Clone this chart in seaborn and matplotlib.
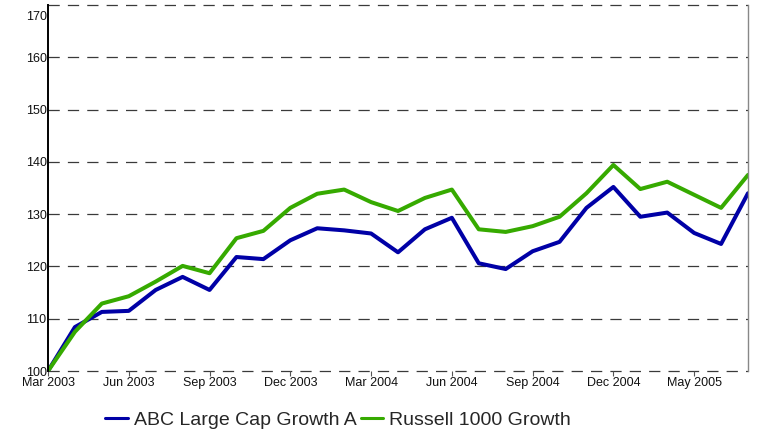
import matplotlib
matplotlib.use("Agg")
import matplotlib.pyplot as plt
import matplotlib.transforms as mtransforms
import seaborn as sns
import pandas as pd
import numpy as np

# ---- data ----
series_names = ["ABC Large Cap Growth A", "Russell 1000 Growth"]
abc_values = [100.0, 108.4, 111.3, 111.5, 115.5, 118.0, 115.5, 121.8, 121.4, 125.0,
              127.3, 126.9, 126.3, 122.7, 127.1, 129.3, 120.6, 119.5, 122.9, 124.7,
              131.2, 135.2, 129.5, 130.3, 126.4, 124.3, 134.0]
russell_values = [100.0, 107.5, 112.9, 114.3, 117.1, 120.1, 118.7, 125.4, 126.8, 131.2,
                  133.9, 134.7, 132.3, 130.6, 133.1, 134.7, 127.1, 126.6, 127.7, 129.5,
                  134.0, 139.4, 134.8, 136.2, 133.7, 131.2, 137.5]
x_tick_labels = ["Mar 2003", "Jun 2003", "Sep 2003", "Dec 2003", "Mar 2004",
                 "Jun 2004", "Sep 2004", "Dec 2004", "May 2005"]
y_ticks = [100, 110, 120, 130, 140, 150, 160, 170]
colors = ["#0000a6", "#36aa00"]

n = len(abc_values)
df = pd.DataFrame({
    "idx": list(range(n)) * 2,
    "value": abc_values + russell_values,
    "series": [series_names[0]] * n + [series_names[1]] * n,
})

sns.set_theme(style="white")
plt.rcParams["font.family"] = ["Liberation Sans", "DejaVu Sans"]

fig = plt.figure(figsize=(7.6, 4.37), dpi=100)
ax = fig.add_axes([48 / 760, 1 - 371 / 437, 700 / 760, 366 / 437])

sns.lineplot(data=df, x="idx", y="value", hue="series", palette=colors,
             linewidth=2.9, ax=ax, legend=False)

ax.set_xlim(0, n - 1)
ax.set_ylim(100, 170)
ax.set_xlabel("")
ax.set_ylabel("")

# grid
for v in y_ticks:
    ax.axhline(v, color="#3a3a3a", lw=0.9, dashes=(9, 6.5), zorder=0, clip_on=False)

for s in ["top", "bottom"]:
    ax.spines[s].set_visible(False)
ax.spines["left"].set_color("black")
ax.spines["left"].set_linewidth(1.4)
ax.spines["right"].set_color("#888888")
ax.spines["right"].set_linewidth(1.0)

ax.set_xticks(list(range(0, 3 * len(x_tick_labels), 3)))
ax.set_xticklabels(x_tick_labels)
ax.set_yticks(y_ticks)
ax.set_yticklabels([str(v) for v in y_ticks])
ax.tick_params(axis="x", direction="out", length=3.5, width=0.8, color="#555555",
               pad=1, labelsize=9, labelcolor="#111111", bottom=True)
ax.tick_params(axis="y", length=0, pad=1, labelsize=9, labelcolor="#111111", left=True)

# shift top y label down inside figure
top_lab = ax.get_yticklabels()[-1]
top_lab.set_va("top")
top_lab.set_transform(top_lab.get_transform() +
                      mtransforms.ScaledTranslation(0, -4 / 72, fig.dpi_scale_trans))

# legend
from matplotlib.lines import Line2D
handles = [Line2D([0], [0], color=c, lw=2.2) for c in colors]
fig.legend(handles, series_names, loc="center", bbox_to_anchor=(0.445, 0.039),
           ncol=2, frameon=False, fontsize=14, handlelength=1.15,
           handletextpad=0.3, columnspacing=0.25, borderaxespad=0, borderpad=0)

fig.savefig("out.png", dpi=100)
